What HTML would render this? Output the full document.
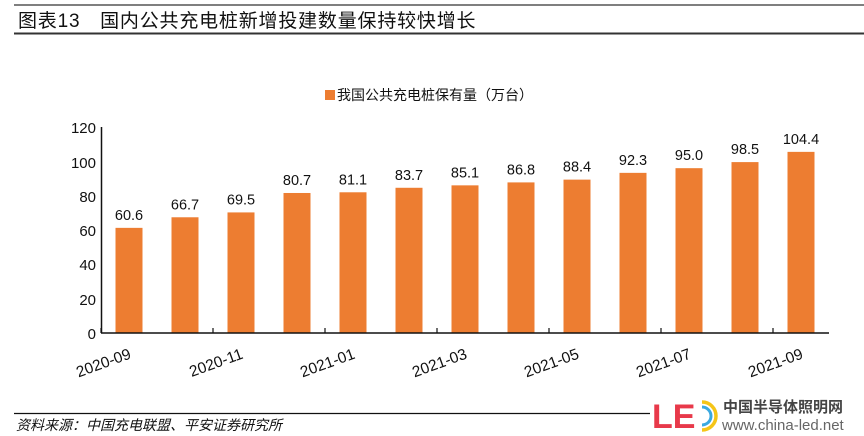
<!DOCTYPE html>
<html><head><meta charset="utf-8"><style>
body{margin:0;background:#fff;}
svg{display:block;font-family:"Liberation Sans","Noto Sans CJK SC",sans-serif;}
</style></head><body>
<svg width="864" height="436" viewBox="0 0 864 436">
<line x1="14" y1="5" x2="864" y2="5" stroke="#555" stroke-width="1.5"/>
<text x="18" y="27" font-size="19" fill="#111" letter-spacing="0.8">图表13　国内公共充电桩新增投建数量保持较快增长</text>
<line x1="14" y1="33.5" x2="864" y2="33.5" stroke="#333" stroke-width="2"/>
<rect x="325" y="90" width="10" height="10" fill="#ED7D31"/>
<text x="337" y="100" font-size="14" fill="#111">我国公共充电桩保有量（万台）</text>
<g font-size="15" fill="#111" text-anchor="end">
<text x="96" y="339">0</text><text x="96" y="305">20</text><text x="96" y="270">40</text>
<text x="96" y="236">60</text><text x="96" y="202">80</text><text x="96" y="168">100</text><text x="96" y="133">120</text>
</g>
<g fill="#ED7D31" id="bars"></g>
<g font-size="14.5" fill="#111" text-anchor="middle" id="vals"></g>
<line x1="101.5" y1="127" x2="101.5" y2="333" stroke="#111" stroke-width="1.5"/>
<line x1="101" y1="333" x2="829" y2="333" stroke="#111" stroke-width="1.5"/>
<g id="ticks" stroke="#111" stroke-width="1.2"></g>
<g font-size="15.5" fill="#111" text-anchor="end" id="xl"></g>
<line x1="14" y1="413.5" x2="864" y2="413.5" stroke="#111" stroke-width="1.2"/>
<text x="16" y="430" font-size="14" fill="#111" font-style="italic">资料来源：中国充电联盟、平安证券研究所</text>
<rect x="650" y="394" width="214" height="42" fill="#fff"/>
<text x="652" y="428" font-size="34" font-weight="bold" fill="#E8394A">LE</text>
<path d="M702 402 a14 14 0 0 1 0 28" fill="none" stroke="#F5C518" stroke-width="3.5"/>
<path d="M702 407 a9 9 0 0 1 0 18" fill="none" stroke="#3BA9E0" stroke-width="3"/>
<text x="723" y="412" font-size="15" font-weight="bold" fill="#444">中国半导体照明网</text>
<text x="722" y="430" font-size="15" fill="#666">www.china-led.net</text>
</svg>
<script>
var v=[60.6,66.7,69.5,80.7,81.1,83.7,85.1,86.8,88.4,92.3,95.0,98.5,104.4];
var lab=["2020-09","2020-11","2021-01","2021-03","2021-05","2021-07","2021-09"];
var ns="http://www.w3.org/2000/svg";
function el(p,t,a,txt){var e=document.createElementNS(ns,t);for(var k in a)e.setAttribute(k,a[k]);if(txt)e.textContent=txt;document.getElementById(p).appendChild(e);}
var s=1.735;
v.forEach(function(d,i){var c=101+56*i+28;var h=d*s;
el("bars","rect",{x:c-13.5,y:333-h,width:27,height:h});
el("vals","text",{x:c,y:333-h-8},d.toFixed(1));});
for(var i=0;i<=6;i++){var x=101+112*i;el("ticks","line",{x1:x,y1:328,x2:x,y2:333});}
lab.forEach(function(l,j){var c=101+112*j+28+3;el("xl","text",{x:c,y:358,transform:"rotate(-20 "+c+" 358)"},l);});
</script>
</body></html>
